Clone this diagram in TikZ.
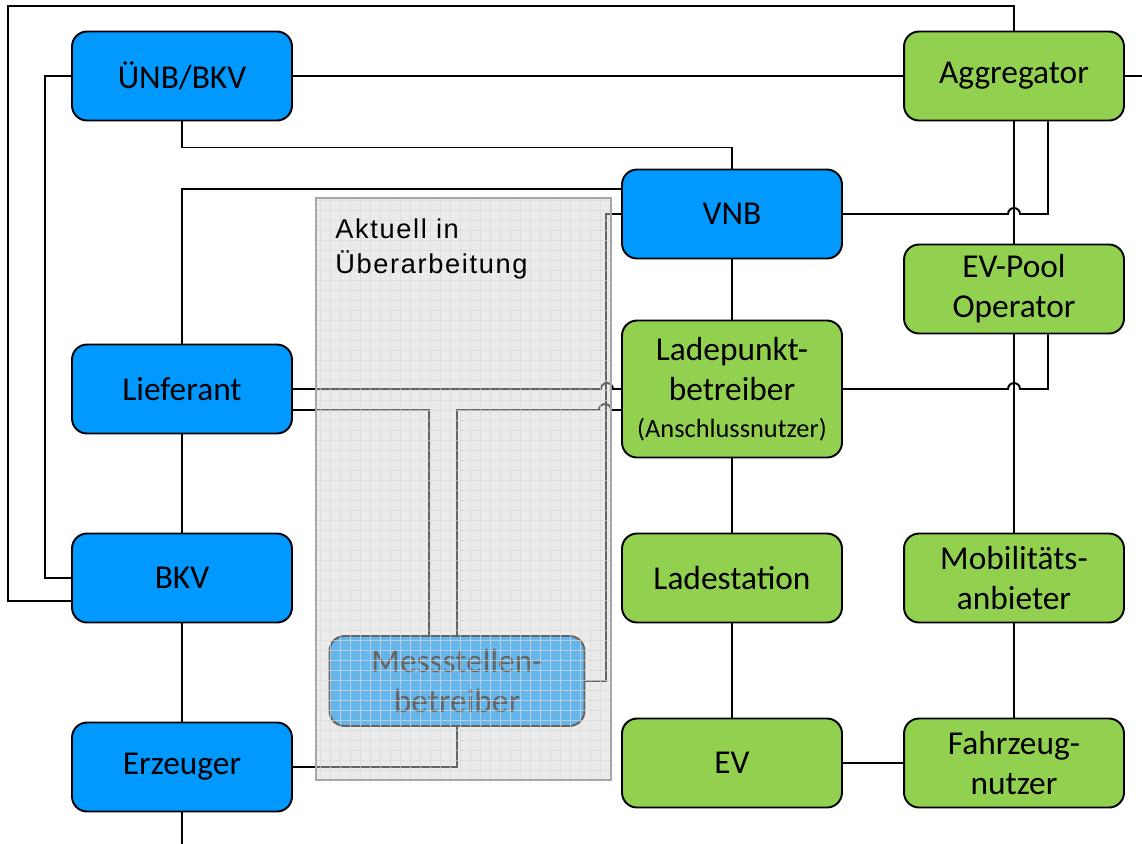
\documentclass[tikz,border=0pt]{standalone}
\usepackage{fontspec}
\setmainfont{Carlito}
\newfontfamily\draftfont{Liberation Sans}[LetterSpace=6]
\usepackage{tikz}
\usetikzlibrary{calc}
\definecolor{cNet}{HTML}{0099FF}
\definecolor{cEmob}{HTML}{92D050}
\definecolor{cShade}{HTML}{D5D5D5}
\definecolor{cFrame}{HTML}{A6A6A6}
\definecolor{cGrid}{HTML}{D8D8D8}
\tikzset{
  role/.style={draw=black,line width=1.1pt,rounded corners=0.3cm,
    minimum width=4.4cm,minimum height=1.78cm,inner sep=2pt,align=center,
    font=\fontsize{19}{22.8}\selectfont},
  net/.style={role,fill=cNet},
  emob/.style={role,fill=cEmob},
  link/.style={line width=1.1pt,black},
}

\begin{document}
\begin{tikzpicture}[x=0.02cm,y=-0.02cm]
  \useasboundingbox (0,0) rectangle (1142,843);
  % roles
  \node[net] (uenb) at (182,76) {ÜNB/BKV};
  \node[net] (lief) at (182,389) {Lieferant};
  \node[net] (bkv) at (182,578) {BKV};
  \node[net] (erz) at (182,767) {Erzeuger};
  \node[net] (vnb) at (732,214) {VNB};
  \node[emob,minimum height=2.74cm] (lpb) at (732,389)
    {Ladepunkt-\\betreiber\\[-2pt]{\fontsize{15}{18}\selectfont(Anschlussnutzer)}};
  \node[emob] (lst) at (732,578) {Ladestation};
  \node[emob] (ev) at (732,763) {EV};
  \node[emob] (aggr) at (1014,76) {Aggregator};
  \node[emob] (pool) at (1014,289) {EV-Pool\\Operator};
  \node[emob] (mob) at (1014,578) {Mobilitäts-\\anbieter};
  \node[emob] (fzn) at (1014,763) {Fahrzeug-\\nutzer};
  \node[net,minimum width=5.1cm,minimum height=1.8cm] (msb) at (457,681) {Messstellen-\\betreiber};
  \coordinate (rim) at (8,6);

  % connectors
  \draw[link] ($(bkv.west)+(0,23)$) -| (rim) -| (aggr.north);
  \draw[link] (uenb.west) -- ++(-26,0) |- (bkv.west);
  \draw[link] (uenb.east) -- (aggr.west);
  \draw[link] (aggr.east) -- ++(18,0);
  \draw[link] (uenb.south) -- ++(0,26) -| (vnb.north);
  \draw[link] (lief.north) |- ($(vnb.west)+(0,-25)$);
  \draw[link] (vnb.east) -- ($(vnb.east -| aggr.south)+(-6,0)$)
    arc[start angle=180,end angle=0,radius=0.12cm]
    -- ($(vnb.east -| aggr.south)+(34,0)$) -- ($(aggr.south)+(34,0)$);
  \draw[link] (lpb.east) -- ($(lpb.east -| pool.south)+(-6,0)$)
    arc[start angle=180,end angle=0,radius=0.12cm]
    -- ($(lpb.east -| pool.south)+(34,0)$) -- ($(pool.south)+(34,0)$);
  \draw[link] (aggr.south) -- (pool.north);
  \draw[link] (pool.south) -- (mob.north);
  \draw[link] (mob.south) -- (fzn.north);
  \draw[link] (vnb.south) -- (lpb.north);
  \draw[link] (lpb.south) -- (lst.north);
  \draw[link] (lst.south) -- (ev.north);
  \draw[link] (ev.east) -- (fzn.west);
  \draw[link] (lief.south) -- (bkv.north);
  \draw[link] (bkv.south) -- (erz.north);
  \draw[link] (erz.south) -- ++(0,32);

  % Messstellenbetreiber
  \draw[link] (lief.east) -- ($(lief.east)+(308,0)$)
    arc[start angle=180,end angle=0,radius=0.12cm] -- (lpb.west);
  \draw[link] ($(lief.east)+(0,21)$) -| ($(msb.north)+(-28,0)$);
  \draw[link] (msb.north) |- ($(lpb.west)+(-22,21)$)
    arc[start angle=180,end angle=0,radius=0.12cm] -- ($(lpb.west)+(0,21)$);
  \draw[link] (msb.east) -- ++(21,0) |- (vnb.west);
  \draw[link] (msb.south) |- (erz.east);

  % Aktuell in Ueberarbeitung
  \fill[cShade,fill opacity=0.47] (316,198) rectangle (611,780);
  \draw[cGrid,opacity=0.7,line width=0.4pt,step=0.2cm] (316,198) grid (611,780);
  \draw[cFrame,line width=1pt] (316,198) rectangle (611,780);
  \node[anchor=north west,inner sep=0pt,align=left,
    font=\draftfont\fontsize{15.5}{20}\selectfont] (draft) at (335,218)
    {Aktuell in\\Überarbeitung};
\end{tikzpicture}
\end{document}
